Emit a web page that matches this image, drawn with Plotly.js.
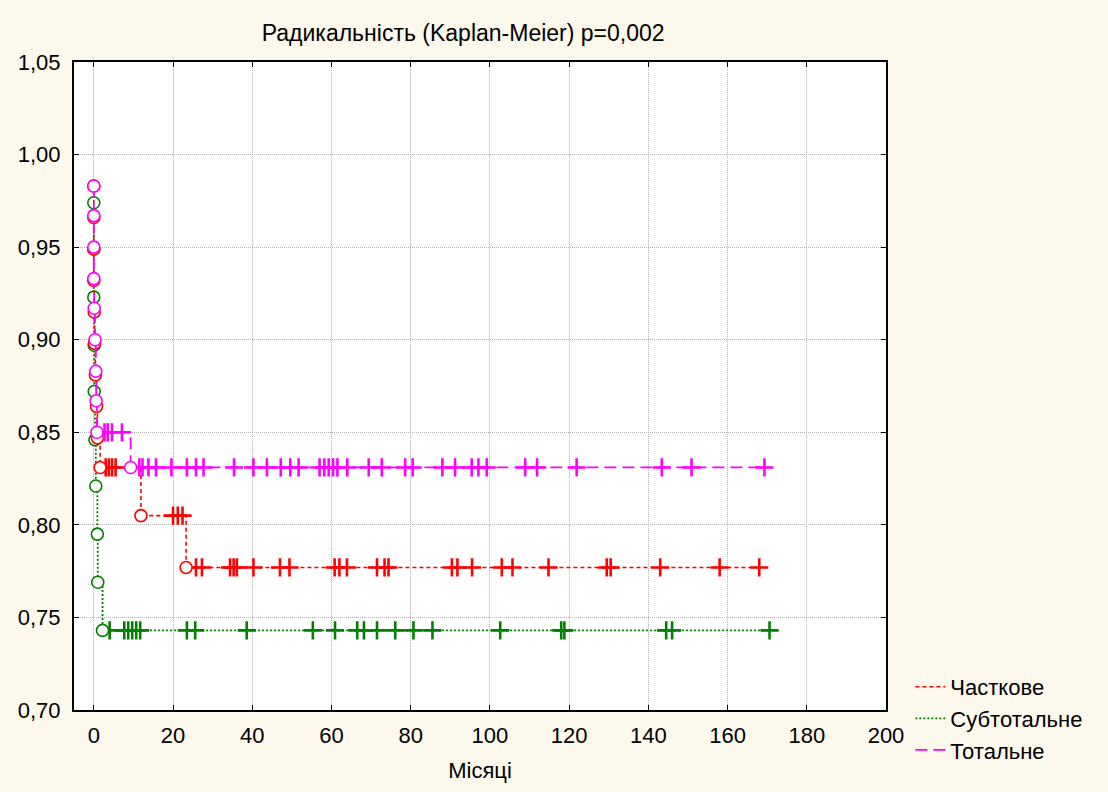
<!DOCTYPE html>
<html>
<head>
<meta charset="utf-8">
<script src="https://cdn.plot.ly/plotly-3.0.1.min.js"></script>
<style>
  html, body { margin: 0; padding: 0; background: #fdf8ec; }
  #chart { width: 1108px; height: 792px; }
</style>
</head>
<body>
<div id="chart"></div>
<script>
// ---- Data (months, cumulative proportion surviving) ----
const seriesNames = ['Часткове', 'Субтотальне', 'Тотальне'];

// Часткове (partial)
const partialEventTimes = [0, 0, 0, 0, 0.1, 0.2, 0.4, 0.7, 0.9, 1.6, 11.9, 23.3];
const partialEventSurv  = [0.983, 0.966, 0.949, 0.932, 0.915, 0.898, 0.881, 0.864, 0.847, 0.831, 0.805, 0.777];
const partialCensored   = [3.0, 3.8, 4.6, 5.5, 20.0, 21.2, 22.4, 25.8, 27.3, 34.4, 35.3, 36.1, 40.3, 47.0, 49.4,
                           60.8, 62.0, 63.9, 71.5, 73.4, 74.4, 90.4, 91.8, 95.5, 103.0, 105.7, 114.8, 129.5, 130.5,
                           143.0, 158.0, 168.0];

// Субтотальне (subtotal)
const subtotalEventTimes = [0, 0, 0, 0.1, 0.1, 0.3, 0.5, 0.9, 1.0, 2.2];
const subtotalEventSurv  = [0.974, 0.949, 0.923, 0.897, 0.872, 0.846, 0.821, 0.795, 0.769, 0.743];
const subtotalCensored   = [4.0, 7.7, 8.7, 9.7, 10.7, 11.7, 23.5, 25.6, 38.6, 55.3, 60.9, 66.5, 68.2, 71.5,
                            76.1, 80.7, 85.5, 102.6, 118.0, 118.8, 144.5, 146.0, 170.6];

// Тотальне (total)
const totalEventTimes = [0, 0, 0, 0, 0.1, 0.3, 0.5, 0.6, 0.8, 9.3];
const totalEventSurv  = [0.983, 0.967, 0.950, 0.933, 0.917, 0.900, 0.883, 0.867, 0.850, 0.831];
const totalCensored   = [2.7, 3.5, 4.6, 7.1, 11.5, 12.3, 13.8, 15.7, 19.6, 23.5, 25.8, 27.7, 35.4, 40.3, 43.7,
                         47.2, 49.6, 51.7, 57.0, 58.2, 59.3, 60.4, 61.5, 64.0, 69.4, 72.7, 78.6, 80.5, 88.0,
                         91.2, 95.4, 97.1, 99.2, 108.9, 111.9, 121.9, 143.4, 150.9, 169.3];

const xTickVals = [0, 20, 40, 60, 80, 100, 120, 140, 160, 180, 200];
const yTickVals = [0.70, 0.75, 0.80, 0.85, 0.90, 0.95, 1.00, 1.05];

// ---- Helpers ----
function levelAt(times, surv, t) {
  let s = surv[0];
  for (let i = 0; i < times.length; i++) { if (times[i] <= t) s = surv[i]; }
  return s;
}

function buildTraces(name, times, surv, cens, color, dash, width, rank) {
  const lastT = Math.max(times[times.length - 1], cens[cens.length - 1]);
  const lx = times.concat([lastT]);
  const ly = surv.concat([surv[surv.length - 1]]);
  return [
    {
      x: lx, y: ly, type: 'scatter', mode: 'lines', name: name,
      line: { color: color, dash: dash, width: width, shape: 'hv' },
      legendrank: rank, hoverinfo: 'skip'
    },
    {
      x: cens, y: cens.map(t => levelAt(times, surv, t)), type: 'scatter', mode: 'markers',
      showlegend: false, name: name,
      marker: { symbol: 'cross-thin-open', size: 13, color: color, line: { color: color, width: 2.6 } }
    },
    {
      x: times, y: surv, type: 'scatter', mode: 'markers', showlegend: false, name: name,
      marker: { symbol: 'circle', size: 12, color: 'rgba(255,255,255,1)', line: { color: color, width: 1.6 } }
    }
  ];
}

const traces = [].concat(
  buildTraces(seriesNames[1], subtotalEventTimes, subtotalEventSurv, subtotalCensored, '#008000', '2px,2px', 1.8, 2),
  buildTraces(seriesNames[0], partialEventTimes, partialEventSurv, partialCensored, '#ff0000', '4px,3px', 1.6, 1),
  buildTraces(seriesNames[2], totalEventTimes, totalEventSurv, totalCensored, '#ff00ff', '12px,6px', 1.8, 3)
);

const fontFam = 'Liberation Sans, Arial, sans-serif';

const layout = {
  width: 1108, height: 792,
  paper_bgcolor: '#fdf8ec',
  plot_bgcolor: '#ffffff',
  separators: ', ',
  font: { family: fontFam, size: 22, color: '#000' },
  margin: { l: 74, r: 222, t: 62, b: 82, pad: 0 },
  title: {
    text: 'Радикальність (Kaplan-Meier) p=0,002',
    font: { family: fontFam, size: 23, color: '#000' },
    xref: 'container', x: 0.418, xanchor: 'center',
    yref: 'container', y: 0.958, yanchor: 'middle'
  },
  xaxis: {
    range: [-5, 200], tickvals: xTickVals, ticktext: xTickVals.map(String),
    ticks: 'inside', ticklen: 5, tickwidth: 1, tickcolor: '#000',
    showline: true, linecolor: '#000', linewidth: 2, mirror: 'ticks',
    showgrid: true, gridcolor: '#b4b4b4', gridwidth: 1, griddash: '1px,1px',
    zeroline: false, ticklabelstandoff: 5,
    tickfont: { family: fontFam, size: 22, color: '#000' },
    title: { text: 'Місяці', font: { family: fontFam, size: 22, color: '#000' }, standoff: 15 }
  },
  yaxis: {
    range: [0.70, 1.05], tickvals: yTickVals, tickformat: '.2f',
    ticks: 'inside', ticklen: 5, tickwidth: 1, tickcolor: '#000',
    showline: true, linecolor: '#000', linewidth: 2, mirror: 'ticks',
    showgrid: true, gridcolor: '#b4b4b4', gridwidth: 1, griddash: '1px,1px',
    zeroline: false, ticklabelstandoff: 7,
    tickfont: { family: fontFam, size: 22, color: '#000' }
  },
  legend: {
    x: 1.03, xanchor: 'left', y: 0.068, yanchor: 'top',
    bgcolor: 'rgba(0,0,0,0)', borderwidth: 0,
    font: { family: fontFam, size: 22, color: '#000' },
    tracegroupgap: 0, itemwidth: 30
  },
  showlegend: true
};

Plotly.newPlot('chart', traces, layout, { displayModeBar: false, staticPlot: true });
</script>
</body>
</html>
